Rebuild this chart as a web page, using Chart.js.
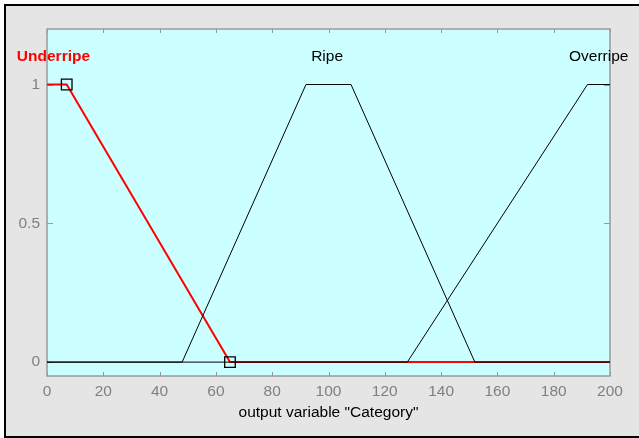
<!DOCTYPE html>
<html>
<head>
<meta charset="utf-8">
<script src="https://cdn.jsdelivr.net/npm/chart.js@4/dist/chart.umd.min.js"></script>
<style>
  body { margin: 0; background: #fff; }
  #wrap { position: relative; width: 639px; height: 438px; overflow: hidden; }
  #panel { position: absolute; left: 4px; top: 4px; width: 700px; height: 430px;
           border: 2px solid #000; background: #e5e5e5; }
  #c { position: absolute; left: 0; top: 0; }
</style>
</head>
<body>
<div id="wrap">
  <div id="panel"></div>
  <canvas id="c" width="639" height="438"></canvas>
</div>
<script>
// membership functions of output variable "Category"
const underX = [0, 7, 65, 200];
const underY = [1, 1, 0, 0];
const ripeX = [0, 48, 92, 108, 152, 200];
const ripeY = [0, 0, 1, 1, 0, 0];
const overX = [0, 128, 192, 200];
const overY = [0, 0, 1, 1];
// selected MF handles
const handleX = [7, 65];
const handleY = [1, 0];
// MF labels
const mfNames = ['Underripe', 'Ripe', 'Overripe'];
const mfLabelX = [2.3, 99.5, 196];
const mfLabelY = 1.1;
// axes
const xTicks = [0, 20, 40, 60, 80, 100, 120, 140, 160, 180, 200];
const yTicks = [0, 0.5, 1];

const FONT = '"Liberation Sans", Arial, sans-serif';
const toPts = (xs, ys) => xs.map((x, i) => ({ x: x, y: ys[i] }));

// cyan plot area, gray frame with inward ticks, MF names
const framePlugin = {
    id: 'frame',
    beforeDatasetsDraw(chart) {
        const { ctx, chartArea: a, scales } = chart;
        ctx.save();
        ctx.fillStyle = '#ccffff';
        ctx.fillRect(a.left, a.top, a.right - a.left, a.bottom - a.top);
        ctx.strokeStyle = '#9a9a9a';
        ctx.lineWidth = 1;
        ctx.beginPath();
        xTicks.forEach(v => {
            const px = Math.round(scales.x.getPixelForValue(v)) + 0.5;
            ctx.moveTo(px, a.top); ctx.lineTo(px, a.top + 4);
            ctx.moveTo(px, a.bottom); ctx.lineTo(px, a.bottom - 4);
        });
        yTicks.forEach(v => {
            const py = Math.round(scales.y.getPixelForValue(v)) + 0.5;
            ctx.moveTo(a.left, py); ctx.lineTo(a.left + 6, py);
            ctx.moveTo(a.right, py); ctx.lineTo(a.right - 6, py);
        });
        ctx.stroke();
        ctx.lineWidth = 1.5;
        ctx.strokeRect(a.left, a.top, a.right - a.left, a.bottom - a.top);
        ctx.restore();
    },
    afterDraw(chart) {
        const { ctx, scales } = chart;
        ctx.save();
        ctx.textAlign = 'center';
        ctx.textBaseline = 'middle';
        mfNames.forEach((name, i) => {
            ctx.font = (i === 0 ? 'bold ' : '') + '15.5px ' + FONT;
            ctx.fillStyle = i === 0 ? '#ff0000' : '#000000';
            ctx.fillText(name, scales.x.getPixelForValue(mfLabelX[i]), scales.y.getPixelForValue(mfLabelY));
        });
        ctx.restore();
    }
};

new Chart(document.getElementById('c'), {
    type: 'line',
    data: {
        datasets: [
            { label: 'handles', data: toPts(handleX, handleY), showLine: false, order: -1,
              pointStyle: 'rect', pointRadius: 7.5, pointBorderColor: '#000', pointBorderWidth: 1.3,
              pointBackgroundColor: 'rgba(0,0,0,0)' },
            { label: mfNames[1], data: toPts(ripeX, ripeY), borderColor: '#000', borderWidth: 1, pointRadius: 0, order: 1 },
            { label: mfNames[2], data: toPts(overX, overY), borderColor: '#000', borderWidth: 1, pointRadius: 0, order: 1 },
            { label: mfNames[0], data: toPts(underX, underY), borderColor: '#ff0000', borderWidth: 2, pointRadius: 0, order: 2 }
        ]
    },
    options: {
        responsive: false,
        animation: false,
        devicePixelRatio: 1,
        layout: { padding: { left: 0, top: 29, right: 29, bottom: 0 } },
        plugins: { legend: { display: false }, tooltip: { enabled: false } },
        scales: {
            x: {
                type: 'linear', min: 0, max: 200,
                afterBuildTicks: s => { s.ticks = xTicks.map(v => ({ value: v })); },
                afterFit: s => { s.height = 62; },
                grid: { display: false, drawTicks: false },
                border: { display: false },
                ticks: { color: '#808080', padding: 6, maxRotation: 0, font: { family: FONT, size: 15.5 } },
                title: { display: true, text: 'output variable "Category"', color: '#000',
                         padding: { top: 0, bottom: 16 }, font: { family: FONT, size: 15.5 } }
            },
            y: {
                type: 'linear', min: -0.05, max: 1.2,
                afterBuildTicks: s => { s.ticks = yTicks.map(v => ({ value: v })); },
                afterFit: s => { s.width = 47; },
                grid: { display: false, drawTicks: false },
                border: { display: false },
                ticks: { color: '#808080', padding: 7, font: { family: FONT, size: 15.5 },
                         callback: v => String(v) }
            }
        }
    },
    plugins: [framePlugin]
});
</script>
</body>
</html>
